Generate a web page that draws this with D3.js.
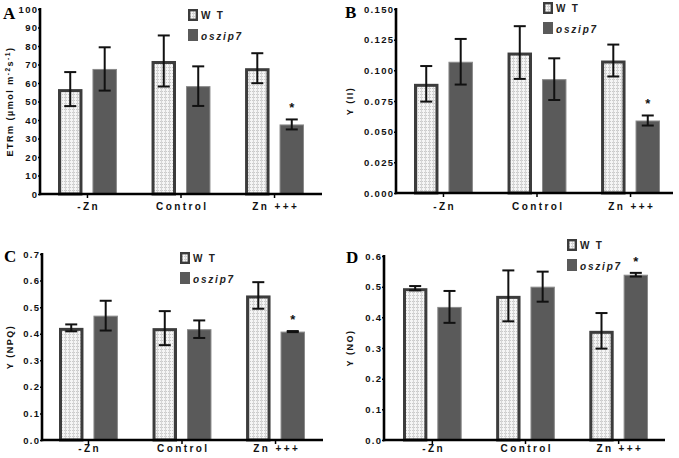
<!DOCTYPE html>
<html lang="en">
<head>
    <meta charset="utf-8">
    <title>Zn treatment - WT vs oszip7</title>
    <script src="https://cdnjs.cloudflare.com/ajax/libs/d3/7.8.5/d3.min.js"></script>
    <style>
        body { margin: 0; background: #fff; }
        svg { display: block; }
        .tick-lbl { font-family: "Liberation Sans", Arial, sans-serif; font-weight: bold; font-size: 9.5px; letter-spacing: 1.3px; fill: #111; }
        .x-lbl { font-family: "Liberation Sans", Arial, sans-serif; font-weight: bold; font-size: 10px; letter-spacing: 2.4px; fill: #111; }
        .y-title { font-family: "Liberation Sans", Arial, sans-serif; font-weight: bold; font-size: 9px; letter-spacing: 1.5px; fill: #111; }
        .leg { font-family: "Liberation Sans", Arial, sans-serif; font-weight: bold; font-size: 10px; letter-spacing: 1.8px; fill: #222; }
        .panel-id { font-family: "Liberation Serif", "Times New Roman", serif; font-weight: bold; font-size: 17px; fill: #000; }
        .star { font-family: "Liberation Sans", Arial, sans-serif; font-weight: bold; font-size: 13px; fill: #111; }
    </style>
</head>
<body>
    <svg id="chart" width="679" height="458"></svg>

    <script>
        // data
        const groups = ['-Zn', 'Control', 'Zn +++'];
        const series = ['W T', 'oszip7'];

        // A: ETRm
        const etrWT = [56.7, 71.9, 68.0];
        const etrWTErr = [9.2, 13.8, 8.1];
        const etrMut = [67.6, 58.3, 37.6];
        const etrMutErr = [11.7, 10.7, 2.7];

        // B: Y(II)
        const yiiWT = [0.089, 0.1145, 0.108];
        const yiiWTErr = [0.0145, 0.0215, 0.013];
        const yiiMut = [0.107, 0.0928, 0.0591];
        const yiiMutErr = [0.0186, 0.017, 0.0041];

        // C: Y(NPQ)
        const npqWT = [0.422, 0.421, 0.544];
        const npqWTErr = [0.013, 0.064, 0.05];
        const npqMut = [0.468, 0.417, 0.408];
        const npqMutErr = [0.056, 0.033, 0.002];

        // D: Y(NO)
        const noWT = [0.495, 0.470, 0.356];
        const noWTErr = [0.007, 0.083, 0.058];
        const noMut = [0.434, 0.500, 0.539];
        const noMutErr = [0.052, 0.049, 0.006];

        // which mutant bar gets the asterisk (group index)
        const starGroup = [2, 2, 2, 2];

        const svg = d3.select('#chart');

        // dotted fill for the WT bars
        const defs = svg.append('defs');
        const pat = defs.append('pattern')
            .attr('id', 'dots')
            .attr('patternUnits', 'userSpaceOnUse')
            .attr('width', 4)
            .attr('height', 3);
        pat.append('rect').attr('width', 4).attr('height', 3).attr('fill', '#f5f5f5');
        pat.append('rect').attr('x', 0).attr('y', 1).attr('width', 3).attr('height', 1).attr('fill', '#c9c9c9');
        pat.append('rect').attr('x', 1).attr('y', 0).attr('width', 1).attr('height', 3).attr('fill', '#d6d6d6');

        const panels = [
            {
                id: 'A', wt: etrWT, wtErr: etrWTErr, mut: etrMut, mutErr: etrMutErr,
                max: 100, step: 10, fmt: d3.format('d'),
                ax: 40, y0: 194, yTop: 9, xEnd: 322, gx0: 58, gx1: 304, xLblY: 210,
                title: ['ETRm (µmol m', '-2', 's', '-1', ')'], titleX: 13,
                idX: 3, idY: 19, legX: 188, legY: 9
            },
            {
                id: 'B', wt: yiiWT, wtErr: yiiWTErr, mut: yiiMut, mutErr: yiiMutErr,
                max: 0.15, step: 0.025, fmt: d3.format('.3f'),
                ax: 396, y0: 193, yTop: 9, xEnd: 673, gx0: 414, gx1: 660, xLblY: 210,
                title: ['Y (II)'], titleX: 353,
                idX: 345, idY: 18, legX: 543, legY: 2
            },
            {
                id: 'C', wt: npqWT, wtErr: npqWTErr, mut: npqMut, mutErr: npqMutErr,
                max: 0.7, step: 0.1, fmt: d3.format('.1f'),
                ax: 42, y0: 440, yTop: 254, xEnd: 323, gx0: 59, gx1: 305, xLblY: 452,
                title: ['Y (NPQ)'], titleX: 13,
                idX: 4, idY: 262, legX: 180, legY: 252
            },
            {
                id: 'D', wt: noWT, wtErr: noWTErr, mut: noMut, mutErr: noMutErr,
                max: 0.6, step: 0.1, fmt: d3.format('.1f'),
                ax: 384, y0: 440, yTop: 256, xEnd: 665, gx0: 403, gx1: 648, xLblY: 452,
                title: ['Y (NO)'], titleX: 353,
                idX: 346, idY: 263, legX: 567, legY: 239
            }
        ];

        panels.forEach((p, pi) => drawPanel(p, pi));

        function drawPanel(p, pi) {
            const g = svg.append('g').attr('class', 'panel panel-' + p.id);

            const y = d3.scaleLinear().domain([0, p.max]).range([p.y0, p.yTop]);
            const x = d3.scaleBand().domain(groups).range([p.gx0, p.gx1])
                .paddingInner(0.37).paddingOuter(0);
            const xs = d3.scaleBand().domain(series).range([0, x.bandwidth()])
                .paddingInner(0.29).paddingOuter(0);

            const rows = [];
            groups.forEach((grp, i) => {
                rows.push({ grp, s: series[0], v: p.wt[i], e: p.wtErr[i], i });
                rows.push({ grp, s: series[1], v: p.mut[i], e: p.mutErr[i], i });
            });

            // bars
            g.append('g').selectAll('rect')
                .data(rows)
                .join('rect')
                .attr('x', d => x(d.grp) + xs(d.s) + (d.s === series[0] ? 1.5 : 0.5))
                .attr('y', d => y(d.v) + (d.s === series[0] ? 1.5 : 0.5))
                .attr('width', d => xs.bandwidth() - (d.s === series[0] ? 3 : 1))
                .attr('height', d => y(0) - y(d.v) - (d.s === series[0] ? 1.5 : 0.5))
                .attr('fill', d => d.s === series[0] ? 'url(#dots)' : '#5a5a5a')
                .attr('stroke', d => d.s === series[0] ? '#3c3c3c' : '#8a8a8a')
                .attr('stroke-width', d => d.s === series[0] ? 3 : 1);

            // error bars
            const eb = g.append('g').attr('stroke', '#111').attr('stroke-width', 2).attr('fill', 'none');
            const cx = d => x(d.grp) + xs(d.s) + xs.bandwidth() / 2;
            eb.selectAll('line.v').data(rows).join('line').attr('class', 'v')
                .attr('x1', cx).attr('x2', cx)
                .attr('y1', d => y(d.v + d.e)).attr('y2', d => y(d.v - d.e));
            eb.selectAll('line.t').data(rows).join('line').attr('class', 't')
                .attr('x1', d => cx(d) - 6).attr('x2', d => cx(d) + 6)
                .attr('y1', d => y(d.v + d.e)).attr('y2', d => y(d.v + d.e));
            eb.selectAll('line.b').data(rows).join('line').attr('class', 'b')
                .attr('x1', d => cx(d) - 6).attr('x2', d => cx(d) + 6)
                .attr('y1', d => y(d.v - d.e)).attr('y2', d => y(d.v - d.e));

            // significance star
            const sd = rows.find(d => d.s === series[1] && d.i === starGroup[pi]);
            g.append('text').attr('class', 'star')
                .attr('x', cx(sd)).attr('y', y(sd.v + sd.e) - 7)
                .attr('text-anchor', 'middle')
                .text('*');

            // y axis
            const ticks = d3.range(0, p.max + p.step / 2, p.step);
            const yAxis = d3.axisLeft(y).tickValues(ticks).tickFormat(p.fmt)
                .tickSize(2).tickPadding(1);
            const ya = g.append('g').attr('transform', `translate(${p.ax},0)`).call(yAxis);
            ya.select('.domain').remove();
            ya.selectAll('.tick line').attr('stroke', '#000').attr('stroke-width', 1.5);
            ya.selectAll('.tick text').attr('class', 'tick-lbl').attr('font-size', null)
                .attr('font-family', null).attr('dx', '1.3px');
            g.append('line')
                .attr('x1', p.ax).attr('x2', p.ax)
                .attr('y1', y(p.max) - 1).attr('y2', p.y0 + 1.2)
                .attr('stroke', '#000').attr('stroke-width', 2.6);

            // x axis
            g.append('line')
                .attr('x1', p.ax - 1).attr('x2', p.xEnd)
                .attr('y1', p.y0).attr('y2', p.y0)
                .attr('stroke', '#000').attr('stroke-width', 2.6);
            g.append('g').selectAll('line')
                .data(groups)
                .join('line')
                .attr('x1', d => x(d) + x.bandwidth() / 2)
                .attr('x2', d => x(d) + x.bandwidth() / 2)
                .attr('y1', p.y0).attr('y2', p.y0 + 4)
                .attr('stroke', '#000').attr('stroke-width', 1.5);
            g.append('g').selectAll('text')
                .data(groups)
                .join('text')
                .attr('class', 'x-lbl')
                .attr('x', d => x(d) + x.bandwidth() / 2 + 1.2)
                .attr('y', p.xLblY)
                .attr('text-anchor', 'middle')
                .text(d => d);

            // y title
            const tt = g.append('text').attr('class', 'y-title')
                .attr('transform', `translate(${p.titleX},${(p.y0 + p.yTop) / 2}) rotate(-90)`)
                .attr('text-anchor', 'middle');
            p.title.forEach((part, k) => {
                const sup = k % 2 === 1;
                tt.append('tspan')
                    .attr('font-size', sup ? '6.5px' : null)
                    .attr('baseline-shift', sup ? '45%' : null)
                    .text(part);
            });

            // panel letter
            g.append('text').attr('class', 'panel-id')
                .attr('x', p.idX).attr('y', p.idY).text(p.id);

            // legend
            const lg = g.append('g').attr('transform', `translate(${p.legX},${p.legY})`);
            lg.append('rect').attr('x', 1.2).attr('y', 1.2).attr('width', 7.6).attr('height', 9.6)
                .attr('fill', 'url(#dots)').attr('stroke', '#3c3c3c').attr('stroke-width', 2.4);
            lg.append('text').attr('class', 'leg').attr('x', 13).attr('y', 10).text(series[0]);
            lg.append('rect').attr('x', 0).attr('y', 20).attr('width', 10).attr('height', 12)
                .attr('fill', '#5a5a5a');
            lg.append('text').attr('class', 'leg').attr('x', 13).attr('y', 30.5)
                .attr('font-style', 'italic').text(series[1]);
        }
    </script>
</body>
</html>
